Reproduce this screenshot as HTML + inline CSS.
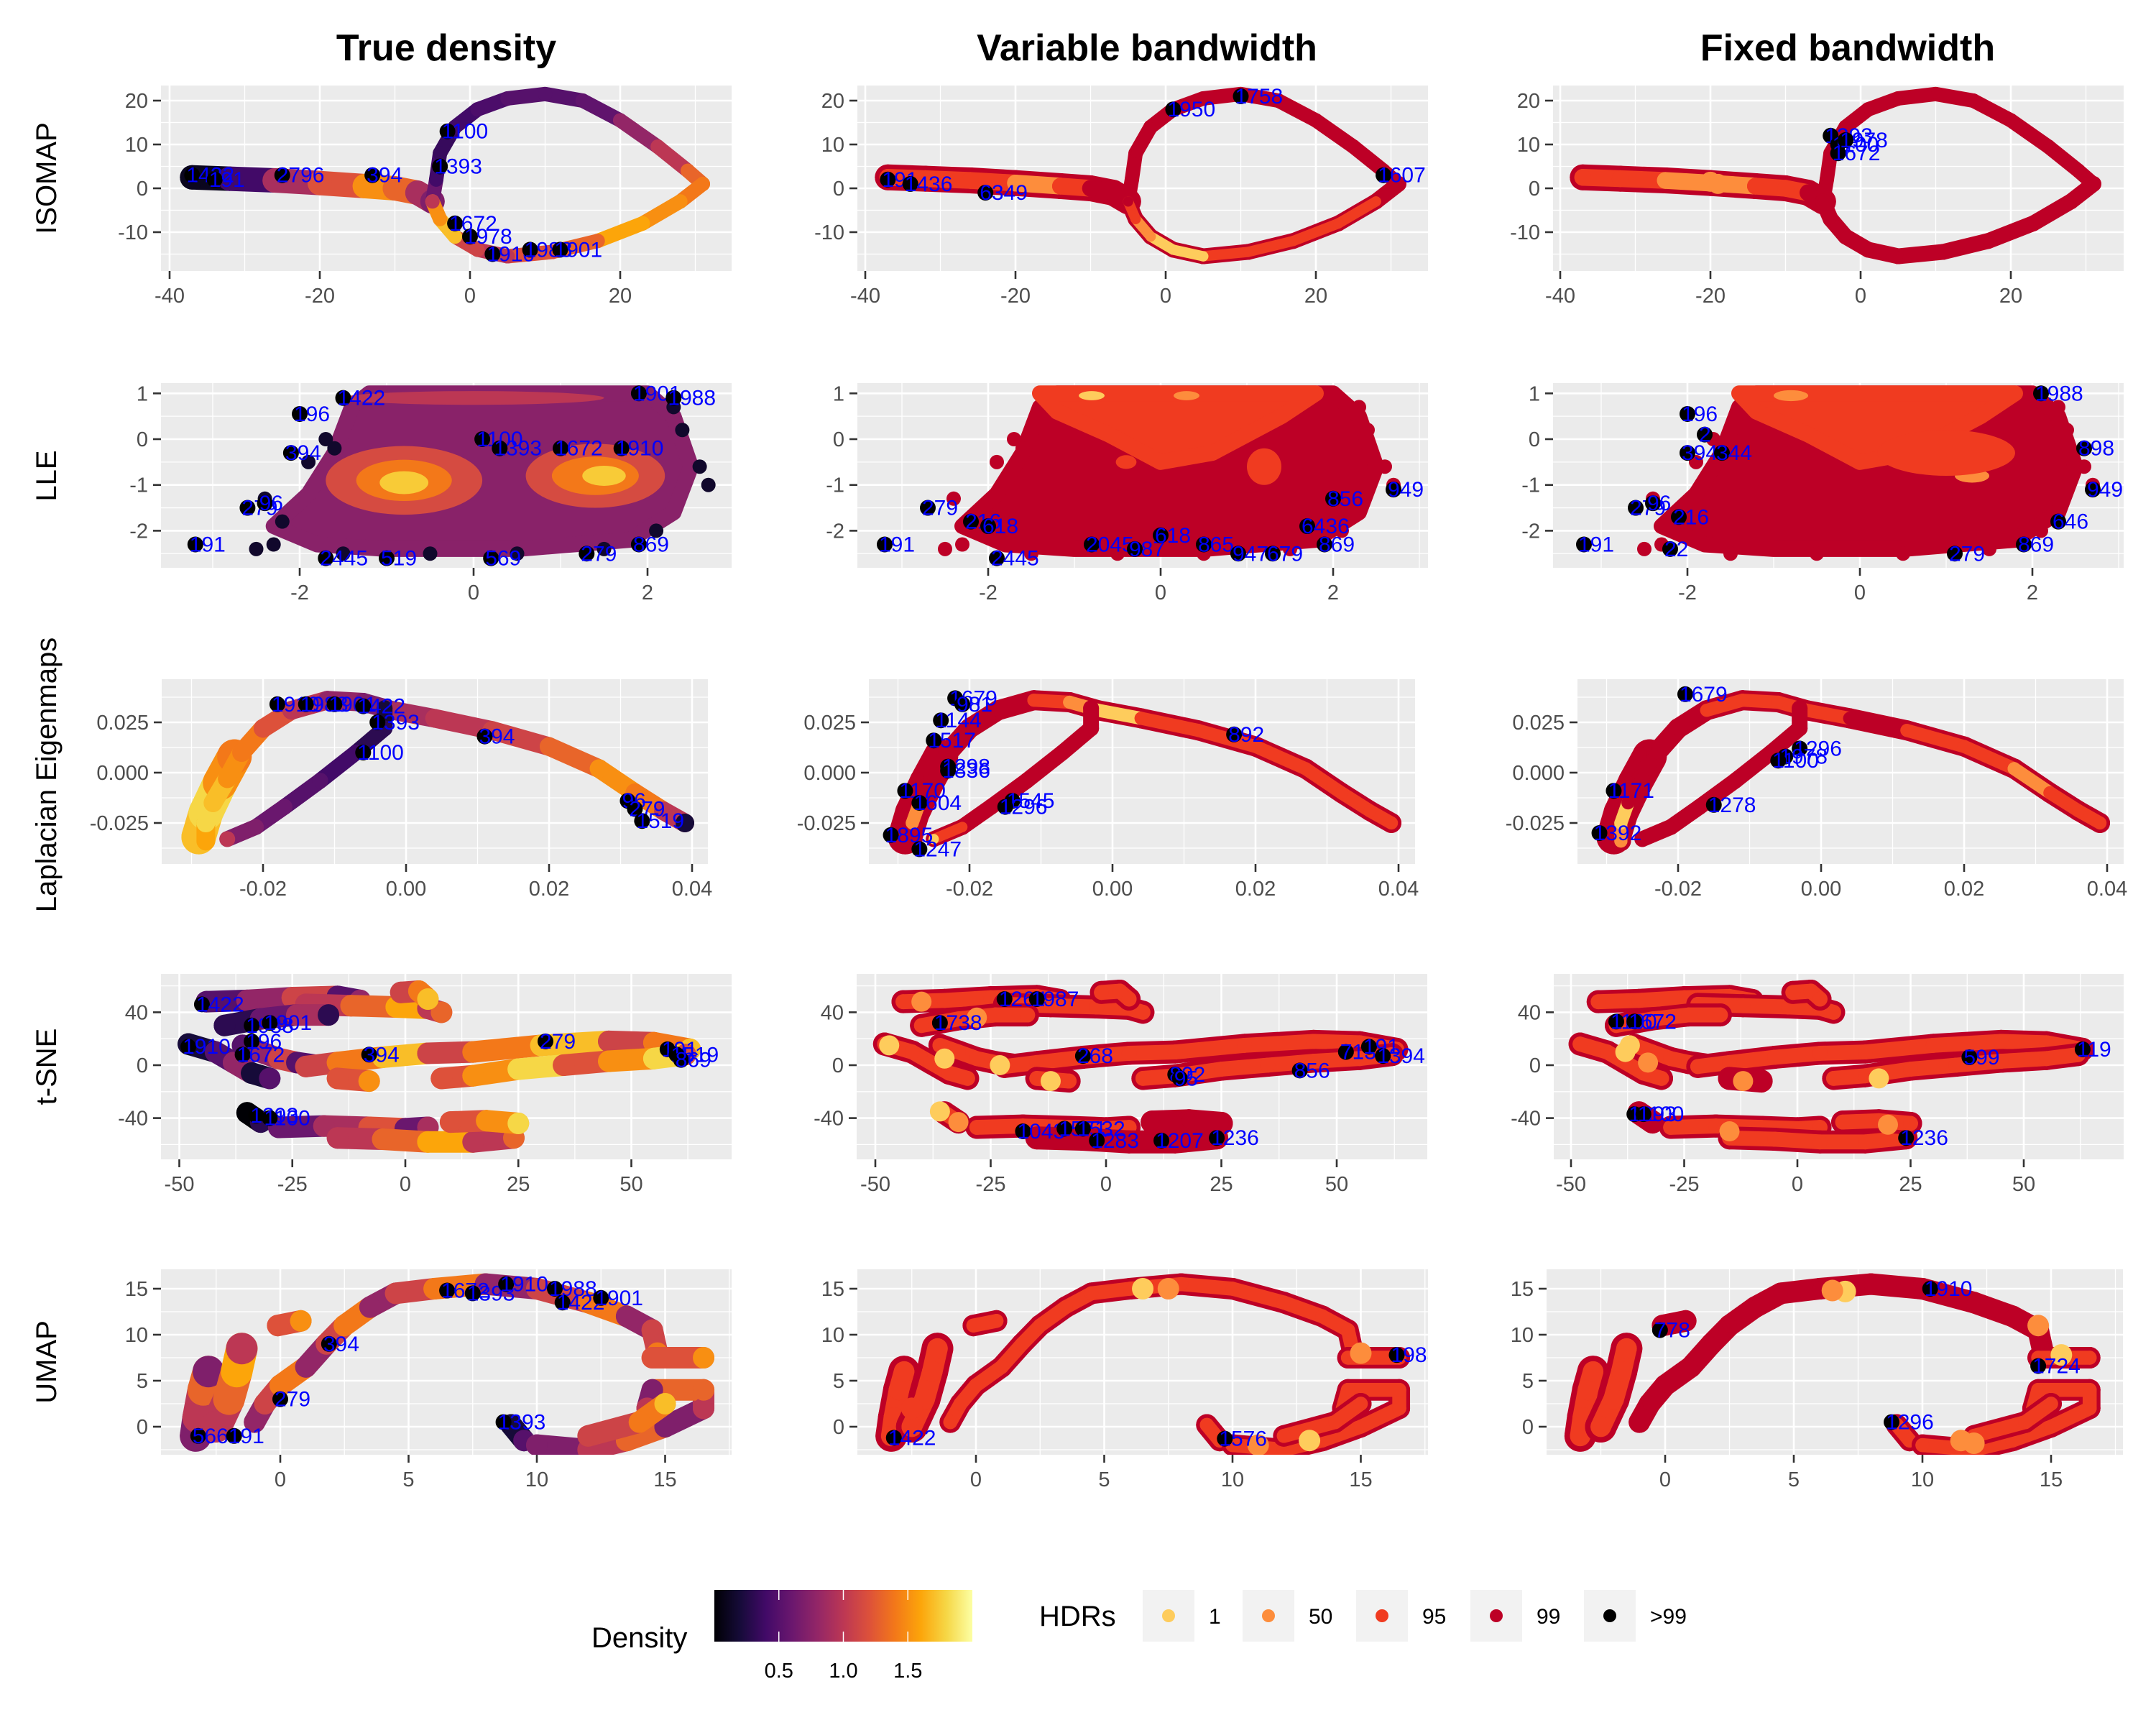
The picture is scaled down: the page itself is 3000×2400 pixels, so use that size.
<!DOCTYPE html>
<html><head><meta charset="utf-8"><style>
html,body{margin:0;padding:0;background:#fff;}
svg{display:block;font-family:"Liberation Sans",sans-serif;}
</style></head><body>
<svg id="fig" xmlns="http://www.w3.org/2000/svg" width="3000" height="2400" viewBox="0 0 3000 2400">
<rect x="0" y="0" width="3000" height="2400" fill="#fff"/>
<text x="621" y="84" font-size="52" font-weight="bold" text-anchor="middle">True density</text>
<text x="1596" y="84" font-size="52" font-weight="bold" text-anchor="middle">Variable bandwidth</text>
<text x="2571" y="84" font-size="52" font-weight="bold" text-anchor="middle">Fixed bandwidth</text>
<g id="rowlabels"></g>
<g id="panels"></g>
<g id="legend"></g>
</svg>
<script>
// ---------------- data ----------------
const hdrLevels = ['1','50','95','99','>99'];
const hdrColors = ['#FECC5C','#FD8D3C','#F03B20','#BD0026','#000000'];
const densityTicks = [0.5,1.0,1.5];
const rowNames = ['ISOMAP','LLE','Laplacian Eigenmaps','t-SNE','UMAP'];

// ISOMAP
const isoArm = [[-37,2.5],[-32,2.2],[-26,1.8],[-20,1.2],[-14,0.5],[-10,0],[-7,-1],[-5,-3]];
const isoUp = [[-5,-3],[-4.5,2],[-4,8],[-2,14],[1,18],[5,20.5],[10,21.5],[15,20],[20,15.5],[25,9.5],[29,4],[31,1]];
const isoLow = [[31,1],[28,-3],[23,-8],[17,-12],[11,-14.5],[5,-15.5],[1,-14],[-2,-11],[-4,-7],[-5,-3]];
const isoArmDens = [0.1,0.4,0.9,1.2,1.5,1.3,0.9,0.7];
const isoUpDens = [0.6,0.4,0.35,0.4,0.45,0.5,0.5,0.55,0.8,1.0,1.3,1.4];
const isoLowDens = [1.4,1.5,1.6,1.3,1.2,1.0,1.1,1.7,1.5,1.0];
const isoArmVar = [2,2,2,1,2,3,3,3];
const isoUpVar = [3,3,3,3,3,3,3,3,3,3,3,3];
const isoLowVar = [3,2,2,2,2,0,0,1,2,3];
const isoArmFix = [2,2,1,1,2,2,3,3];
const isoUpFix = [3,3,3,3,3,3,3,3,3,3,3,3];
const isoLowFix = [3,3,3,3,3,3,3,3,3,3];
const isoLabTrue = [[-37,3,'1422'],[-34,2,'191'],[-25,3,'2796'],[-13,3,'394'],[-4,5,'1393'],[-3,13,'1100'],[-2,-8,'1672'],[0,-11,'1978'],[3,-15,'1910'],[8,-14,'1988'],[12,-14,'1901']];
const isoLabVar = [[-37,2,'191'],[-34,1,'1436'],[-24,-1,'6349'],[1,18,'1950'],[10,21,'1758'],[29,3,'1607']];
const isoLabFix = [[-4,12,'1393'],[-3,10,'1100'],[-3,8,'1672'],[-2,11,'1978']];

// LLE
const lleBody = [[-2.3,-1.9],[-1.9,-1.2],[-1.6,-0.3],[-1.4,0.7],[-1.2,1],[2.0,1],[2.3,0.5],[2.5,-0.6],[2.3,-1.6],[1.8,-2.2],[0.5,-2.4],[-1.0,-2.4],[-1.8,-2.3]];
const lleCore95 = [[-1.4,1],[1.8,1],[1.4,0.5],[0.6,-0.3],[0,-0.5],[-0.6,0.1],[-1.2,0.6]];
const lleBlobsTrue = [[0,0.9,1.5,0.15,1.0],[-0.8,-0.9,0.9,0.75,1.15],[1.4,-0.8,0.8,0.7,1.15],[-0.8,-0.9,0.55,0.45,1.4],[1.4,-0.8,0.5,0.42,1.4],[-0.8,-0.95,0.28,0.25,1.75],[1.5,-0.8,0.25,0.22,1.75]];
const lleBlobsVar = [[-0.8,0.95,0.15,0.1,0],[0.3,0.95,0.15,0.1,1],[1.2,-0.6,0.2,0.4,2],[-0.4,-0.5,0.12,0.15,2]];
const lleBlobsFix = [[-0.8,0.95,0.2,0.12,1],[1.3,-0.8,0.2,0.15,1],[1.0,-0.3,0.8,0.5,2]];
const lleSparse = [[-2.4,-1.3],[-2.2,-1.8],[-2.5,-2.4],[-2.3,-2.3],[-1.5,-2.5],[-0.5,-2.5],[0.5,-2.5],[1.5,-2.4],[2.1,-2.0],[2.6,-0.6],[2.7,-1.0],[2.4,0.2],[2.3,0.7],[-1.9,-0.5],[-1.6,-0.2],[-1.7,0.0]];
const lleLabTrue = [[-3.2,-2.3,'191'],[-2.6,-1.5,'279'],[-2.4,-1.4,'96'],[-2,0.55,'196'],[-1.5,0.9,'1422'],[-2.1,-0.3,'394'],[-1.7,-2.6,'2445'],[-1,-2.6,'519'],[0.1,0,'1100'],[0.3,-0.2,'1393'],[1.0,-0.2,'1672'],[1.7,-0.2,'1910'],[1.9,1.0,'1901'],[2.3,0.9,'1988'],[1.3,-2.5,'279'],[1.9,-2.3,'869'],[0.2,-2.6,'569']];
const lleLabVar = [[-3.2,-2.3,'191'],[-2.7,-1.5,'279'],[-2.2,-1.8,'216'],[-2,-1.9,'618'],[-1.9,-2.6,'2445'],[-0.8,-2.3,'2045'],[-0.3,-2.4,'987'],[0,-2.1,'618'],[0.5,-2.3,'865'],[0.9,-2.5,'947'],[1.3,-2.5,'679'],[1.7,-1.9,'6436'],[1.9,-2.3,'869'],[2.0,-1.3,'856'],[2.7,-1.1,'949']];
const lleLabFix = [[-3.2,-2.3,'191'],[-2.6,-1.5,'279'],[-2.4,-1.4,'96'],[-2.1,-1.7,'216'],[-2.0,0.55,'196'],[-1.8,0.1,'2'],[-2.0,-0.3,'394'],[-1.6,-0.3,'344'],[-2.2,-2.4,'22'],[1.1,-2.5,'279'],[1.9,-2.3,'869'],[2.1,1.0,'1988'],[2.6,-0.2,'898'],[2.7,-1.1,'949'],[2.3,-1.8,'646']];

// Laplacian Eigenmaps
const lapOuter = [[-0.028,-0.034],[-0.028,-0.025],[-0.027,-0.015],[-0.025,-0.003],[-0.023,0.01],[-0.02,0.022],[-0.016,0.031],[-0.011,0.036],[-0.006,0.035],[-0.002,0.031],[0.004,0.027],[0.012,0.021],[0.02,0.013],[0.027,0.002],[0.032,-0.01],[0.036,-0.019],[0.039,-0.025]];
const lapInner = [[-0.003,0.032],[-0.003,0.022],[-0.007,0.01],[-0.012,-0.004],[-0.017,-0.017],[-0.021,-0.027],[-0.025,-0.033]];
const lapLeft = [[-0.029,-0.032],[-0.028,-0.02],[-0.026,-0.005],[-0.024,0.008]];
const lapOuterDens = [1.6,1.8,1.7,1.5,1.4,1.2,1.0,0.8,0.7,0.9,1.0,1.1,1.3,1.5,1.4,1.0,0.2];
const lapInnerDens = [0.2,0.3,0.4,0.5,0.6,0.7,1.0];
const lapLeftDens = [1.7,1.8,1.5,1.4];
const lapOuterVar = [3,1,3,3,3,3,3,2,1,0,2,2,2,2,2,2,2];
const lapInnerVar = [3,3,3,3,3,2,0];
const lapLeftVar = [3,3,3,3];
const lapOuterFix = [1,0,3,3,3,3,2,2,2,2,3,2,2,1,2,2,2];
const lapInnerFix = [3,3,3,3,3,3,3];
const lapLeftFix = [3,3,3,3];
const lapLabTrue = [[-0.018,0.034,'1910'],[-0.014,0.034,'1988'],[-0.01,0.034,'1901'],[-0.006,0.033,'1422'],[-0.004,0.025,'1393'],[-0.006,0.01,'1100'],[0.011,0.018,'394'],[0.031,-0.014,'96'],[0.032,-0.018,'279'],[0.033,-0.024,'1519']];
const lapLabVar = [[-0.022,0.037,'1679'],[-0.021,0.034,'981'],[-0.024,0.026,'1144'],[-0.025,0.016,'1517'],[-0.023,0.003,'1298'],[-0.023,0.001,'1836'],[-0.029,-0.009,'1170'],[-0.027,-0.015,'1604'],[-0.014,-0.014,'1545'],[-0.015,-0.017,'1296'],[-0.031,-0.031,'1895'],[-0.027,-0.038,'1247'],[0.017,0.019,'892']];
const lapLabFix = [[-0.019,0.039,'1679'],[-0.003,0.012,'1296'],[-0.005,0.008,'1978'],[-0.006,0.006,'1100'],[-0.029,-0.009,'1171'],[-0.015,-0.016,'1278'],[-0.031,-0.03,'1392']];

// t-SNE strands
const tsneStrands = [
 [[-44,48],[-35,49],[-25,51],[-15,52],[-10,49]],
 [[-22,46],[-12,45],[-2,44],[5,43],[8,40]],
 [[-1,55],[3,56],[5,50]],
 [[-40,30],[-32,35],[-24,38],[-17,38]],
 [[-48,16],[-42,10],[-38,2],[-34,-6],[-30,-10]],
 [[-36,15],[-32,10],[-28,5],[-24,2],[-20,0]],
 [[-22,-1],[-15,2],[-5,6],[5,9],[15,10],[30,15],[45,18],[55,17],[63,12]],
 [[-15,-10],[-8,-12]],
 [[8,-10],[15,-8],[25,-3],[35,0],[45,3],[55,5],[62,8]],
 [[-35,-36],[-32,-43]],
 [[-28,-47],[-18,-46],[-8,-47],[0,-48],[5,-47]],
 [[-15,-55],[-5,-56],[5,-58],[15,-58],[24,-55]],
 [[10,-43],[18,-42],[25,-44]]
];
const tsneDens = [0.8,1.3,1.4,0.6,0.5,0.8,1.4,1.5,1.5,0.3,0.9,1.3,1.5];
const tsneVar = [2,2,2,2,2,2,2,2,2,2,2,3,3];
const tsneFix = [2,2,2,2,2,2,2,3,2,3,2,2,2];
const tsneSpotsVar = [[-47,15,0],[-35,5,0],[-23,0,0],[-12,-12,0],[-36,-35,0],[-40,48,1],[-32,-43,1],[-28,36,1]];
const tsneSpotsFix = [[-38,10,0],[-37,15,0],[18,-10,0],[-33,2,1],[20,-45,1],[-15,-50,1],[-12,-12,1]];
const tsneLabTrue = [[-45,46,'1422'],[-34,30,'1988'],[-30,32,'1901'],[-48,14,'1910'],[-34,18,'196'],[-36,8,'1672'],[-33,-38,'1393'],[-30,-40,'1100'],[-8,8,'394'],[31,18,'279'],[58,12,'191'],[60,8,'1519'],[61,4,'869']];
const tsneLabVar = [[-22,50,'1264'],[-15,50,'1987'],[-36,32,'1738'],[-5,7,'268'],[15,-7,'892'],[16,-10,'95'],[42,-4,'856'],[52,10,'713'],[57,14,'191'],[60,7,'1394'],[-18,-50,'1043'],[-9,-48,'1571'],[-5,-48,'1532'],[-2,-57,'1283'],[12,-57,'1207'],[24,-55,'1236']];
const tsneLabFix = [[-40,33,'1100'],[-36,33,'1672'],[-36,-37,'1393'],[-34,-37,'1100'],[38,6,'599'],[63,12,'119'],[24,-55,'1236']];

// UMAP strands
const umapStrands = [
 [[-3.3,-1],[-3.2,1],[-3,4],[-2.8,6]],
 [[-2.5,0],[-2,3],[-1.7,6],[-1.5,8.5]],
 [[-1,0.5],[-0.6,2.5],[0,4.5],[1,6.5],[1.8,9],[2.5,11],[3.5,13],[4.5,14.5],[6,15],[8,15.5],[10,15],[12,13.5],[13.5,12],[14.5,10.5],[14.7,8]],
 [[-0.1,11],[0.8,11.5]],
 [[14.5,7.5],[16.5,7.5]],
 [[9,0.2],[9.5,-1.5]],
 [[10,-2],[12,-2.5],[13.5,-1.5],[15,0],[16.5,2],[16.5,4],[14.5,4],[14.3,2]],
 [[12,-1],[14,0.5],[15,2.5]]
];
const umapDens = [1.0,1.3,1.1,1.5,1.5,0.5,1.0,1.4];
const umapVar = [2,2,2,2,2,2,2,2];
const umapFix = [2,2,3,3,2,2,2,2];
const umapSpotsVar = [[6.5,15,0],[7.5,15,1],[15,8,1],[13,-1.5,0],[-2.5,2,2],[11,-2,1]];
const umapSpotsFix = [[7,14.7,0],[6.5,14.8,1],[15.4,7.8,0],[14.5,11,1],[11.5,-1.5,1],[12,-1.8,1]];
const umapLabTrue = [[-3.2,-1,'566'],[-1.8,-1,'191'],[0,3,'279'],[1.9,9,'394'],[6.5,14.8,'1672'],[7.5,14.5,'1393'],[8.8,15.5,'1910'],[10.7,15,'1988'],[11,13.5,'1422'],[12.5,14,'1901'],[8.7,0.5,'1393']];
const umapLabVar = [[-3.2,-1.2,'1422'],[9.7,-1.3,'1576'],[16.4,7.8,'1988']];
const umapLabFix = [[10.3,15,'1910'],[-0.2,10.5,'778'],[14.5,6.6,'1724'],[8.8,0.5,'1296']];

// tick values
const isoXT=[-40,-20,0,20], isoYT=[-10,0,10,20];
const lleXT=[-2,0,2], lleYT=[-2,-1,0,1];
const lapXT=[-0.02,0,0.02,0.04], lapYT=[-0.025,0,0.025];
const lapXL=['-0.02','0.00','0.02','0.04'], lapYL=['-0.025','0.000','0.025'];
const tsneXT=[-50,-25,0,25,50], tsneYT=[-40,0,40];
const umapXT=[0,5,10,15], umapYT=[0,5,10,15];

// ---------------- rendering ----------------
const NS='http://www.w3.org/2000/svg';
function mk(tag, attrs, parent){const e=document.createElementNS(NS,tag);for(const k in attrs)e.setAttribute(k,attrs[k]);if(parent)parent.appendChild(e);return e;}
const infStops=['#000004','#160b39','#420a68','#6a176e','#932667','#bc3754','#dd513a','#f37819','#fca50a','#f6d746','#fcffa4'];
function hex(c){return [parseInt(c.slice(1,3),16),parseInt(c.slice(3,5),16),parseInt(c.slice(5,7),16)];}
function inferno(d){let t=Math.max(0,Math.min(1,d/2.0))*10;const i=Math.min(9,Math.floor(t)),f=t-i;const a=hex(infStops[i]),b=hex(infStops[i+1]);return 'rgb('+a.map((v,j)=>Math.round(v+(b[j]-v)*f)).join(',')+')';}

const rows=[
 {name:'isomap',top:119,bot:377,y0:262,ky:6.1,xt:isoXT,yt:isoYT,cols:[[224,1018,654,10.45],[1193,1987,1622,10.45],[2161,2955,2589,10.45]]},
 {name:'lle',top:533,bot:790,y0:611,ky:63.7,xt:lleXT,yt:lleYT,cols:[[224,1018,659,121],[1193,1987,1615,120],[2161,2955,2588,120]]},
 {name:'laplacian',top:945,bot:1202,y0:1075,ky:2800,xt:lapXT,yt:lapYT,xl:lapXL,yl:lapYL,cols:[[225,985,565,9950],[1209,1969,1548,9950],[2195,2955,2534,9950]]},
 {name:'tsne',top:1355,bot:1613,y0:1482,ky:1.84,xt:tsneXT,yt:tsneYT,cols:[[224,1018,564,6.29],[1192,1986,1539,6.42],[2162,2955,2501,6.3]]},
 {name:'umap',top:1766,bot:2024,y0:1985,ky:12.8,xt:umapXT,yt:umapYT,cols:[[224,1018,390,35.7],[1193,1987,1358,35.7],[2152,2954,2317,35.8]]}
];
const colNames=['true-density','variable-bandwidth','fixed-bandwidth'];
const root=document.getElementById('panels');
const rl=document.getElementById('rowlabels');
const rowCenters=[248,662,1078,1484,1895];
rowNames.forEach((n,i)=>{
 const t=mk('text',{x:0,y:0,'font-size':40,'text-anchor':'middle',transform:'translate(78,'+rowCenters[i]+') rotate(-90)'},rl);
 
 
 t.textContent=n;
});

function fmt(v){return String(v);}
function drawAxes(g,row,c){
 const [L,R,xz,kx]=c;
 const X=v=>xz+v*kx, Y=v=>row.y0-v*row.ky;
 mk('rect',{x:L,y:row.top,width:R-L,height:row.bot-row.top,fill:'#EBEBEB'},g);
 const xs=row.xt, ys=row.yt;
 const sx=xs[1]-xs[0], sy=ys[1]-ys[0];
 for(let v=xs[0]-sx*2.5;v<=xs[xs.length-1]+sx*2.5;v+=sx){const p=X(v);if(p>L&&p<R)mk('line',{x1:p,x2:p,y1:row.top,y2:row.bot,stroke:'#fff','stroke-width':1.3},g);}
 for(let v=ys[0]-sy*2.5;v<=ys[ys.length-1]+sy*2.5;v+=sy){const p=Y(v);if(p>row.top&&p<row.bot)mk('line',{x1:L,x2:R,y1:p,y2:p,stroke:'#fff','stroke-width':1.3},g);}
 xs.forEach((v,i)=>{const p=X(v);
  mk('line',{x1:p,x2:p,y1:row.top,y2:row.bot,stroke:'#fff','stroke-width':2.6},g);
  mk('line',{x1:p,x2:p,y1:row.bot,y2:row.bot+11,stroke:'#333','stroke-width':2.6},g);
  const t=mk('text',{x:p,y:row.bot+44,'font-size':29,fill:'#4D4D4D','text-anchor':'middle'},g);
  
  
  t.textContent=row.xl?row.xl[i]:fmt(v);});
 ys.forEach((v,i)=>{const p=Y(v);
  mk('line',{x1:L,x2:R,y1:p,y2:p,stroke:'#fff','stroke-width':2.6},g);
  mk('line',{x1:L-11,x2:L,y1:p,y2:p,stroke:'#333','stroke-width':2.6},g);
  const t=mk('text',{x:L-18,y:p+10,'font-size':29,fill:'#4D4D4D','text-anchor':'end'},g);
  
  
  t.textContent=row.yl?row.yl[i]:fmt(v);});
 return {X,Y};
}
function strokeLine(g,pts,cols,w,X,Y,name){
 for(let i=0;i<pts.length-1;i++){
  const l=mk('line',{x1:X(pts[i][0]),y1:Y(pts[i][1]),x2:X(pts[i+1][0]),y2:Y(pts[i+1][1]),stroke:cols[i],'stroke-width':w,'stroke-linecap':'round'},g);
  
  
 }
 pts.forEach((p,i)=>{const c=mk('circle',{cx:X(p[0]),cy:Y(p[1]),r:w/2,fill:cols[i]},g);
  
  });
}
function densStroke(g,pts,dens,w,X,Y,name){strokeLine(g,pts,dens.map(inferno),w,X,Y,name);}
function hdrStroke(g,pts,lv,w,X,Y,name){strokeLine(g,pts,pts.map(()=>hdrColors[3]),w,X,Y,name+'-outer');strokeLine(g,pts,lv.map(l=>hdrColors[l]),w*0.65,X,Y,name+'-inner');}
function labels(g,arr,X,Y){
 arr.forEach(a=>{const c=mk('circle',{cx:X(a[0]),cy:Y(a[1]),r:11,fill:'#000'},g);
  
  
  const t=mk('text',{x:X(a[0])-8,y:Y(a[1])+10,'font-size':30,fill:'#0000FF'},g);
  
  
  t.textContent=a[2];});
}
function spots(g,arr,X,Y,r){arr.forEach(s=>{const c=mk('circle',{cx:X(s[0]),cy:Y(s[1]),r:r,fill:hdrColors[s[2]]},g);
 
 });}
function poly(g,pts,fill,X,Y,name){const p=mk('polygon',{points:pts.map(q=>X(q[0])+','+Y(q[1])).join(' '),fill:fill,stroke:fill,'stroke-width':22,'stroke-linejoin':'round'},g);
 
 }
function ellipses(g,arr,X,Y,kx,ky,colf){arr.forEach(b=>{const e=mk('ellipse',{cx:X(b[0]),cy:Y(b[1]),rx:b[2]*kx,ry:b[3]*ky,fill:colf(b[4])},g);
 
 });}

let clipId=0;
rows.forEach((row,ri)=>{
 row.cols.forEach((c,ci)=>{
  const g=mk('g',{},root);
  
  
  const {X,Y}=drawAxes(g,row,c);
  const cid='clip'+(clipId++);
  const cp=mk('clipPath',{id:cid},g);mk('rect',{x:c[0],y:row.top,width:c[1]-c[0],height:row.bot-row.top},cp);
  const d=mk('g',{'clip-path':'url(#'+cid+')'},g);
  const kx=c[3], ky=row.ky;
  if(row.name==='isomap'){
   if(ci===0){densStroke(d,isoArm,isoArmDens,34,X,Y,'isomap-arm');densStroke(d,isoUp,isoUpDens,20,X,Y,'isomap-loop-upper');densStroke(d,isoLow,isoLowDens,20,X,Y,'isomap-loop-lower');labels(d,isoLabTrue,X,Y);}
   else {const A=ci===1?[isoArmVar,isoUpVar,isoLowVar]:[isoArmFix,isoUpFix,isoLowFix];
    hdrStroke(d,isoArm,A[0],36,X,Y,'isomap-arm');hdrStroke(d,isoUp,A[1],20,X,Y,'isomap-loop-upper');hdrStroke(d,isoLow,A[2],22,X,Y,'isomap-loop-lower');
    if(ci===2) spots(d,[[-20,1.5,1],[-19,1,1]],X,Y,14);
    labels(d,ci===1?isoLabVar:isoLabFix,X,Y);}
  } else if(row.name==='lle'){
   if(ci===0){poly(d,lleBody,inferno(0.75),X,Y,'lle-cloud');ellipses(d,lleBlobsTrue,X,Y,kx,ky,inferno);
    lleSparse.forEach(p=>{const q=mk('circle',{cx:X(p[0]),cy:Y(p[1]),r:10,fill:inferno(0.15)},d);});
    labels(d,lleLabTrue,X,Y);}
   else{poly(d,lleBody,hdrColors[3],X,Y,'lle-cloud');poly(d,lleCore95,hdrColors[2],X,Y,'lle-core-95');
    ellipses(d,ci===1?lleBlobsVar:lleBlobsFix,X,Y,kx,ky,l=>hdrColors[l]);
    lleSparse.forEach(p=>{const q=mk('circle',{cx:X(p[0]),cy:Y(p[1]),r:10,fill:hdrColors[3]},d);});
    labels(d,ci===1?lleLabVar:lleLabFix,X,Y);}
  } else if(row.name==='laplacian'){
   if(ci===0){densStroke(d,lapLeft,lapLeftDens,48,X,Y,'lap-left');densStroke(d,lapOuter,lapOuterDens,26,X,Y,'lap-outer');densStroke(d,lapInner,lapInnerDens,22,X,Y,'lap-inner');labels(d,lapLabTrue,X,Y);}
   else{const A=ci===1?[lapLeftVar,lapOuterVar,lapInnerVar]:[lapLeftFix,lapOuterFix,lapInnerFix];
    hdrStroke(d,lapLeft,A[0],48,X,Y,'lap-left');hdrStroke(d,lapOuter,A[1],28,X,Y,'lap-outer');hdrStroke(d,lapInner,A[2],22,X,Y,'lap-inner');
    labels(d,ci===1?lapLabVar:lapLabFix,X,Y);}
  } else if(row.name==='tsne'){
   tsneStrands.forEach((s,si)=>{
    if(ci===0) densStroke(d,s,s.map((p,j)=>tsneDens[si]+((j%3)-1)*0.3),30,X,Y,'tsne-strand');
    else hdrStroke(d,s,s.map(()=> (ci===1?tsneVar:tsneFix)[si]),32,X,Y,'tsne-strand');});
   if(ci>0) spots(d,ci===1?tsneSpotsVar:tsneSpotsFix,X,Y,14);
   labels(d,ci===0?tsneLabTrue:ci===1?tsneLabVar:tsneLabFix,X,Y);
  } else {
   umapStrands.forEach((s,si)=>{
    const w=si<2?44:30;
    if(ci===0) densStroke(d,s,s.map((p,j)=>umapDens[si]+((j%3)-1)*0.3),w,X,Y,'umap-strand');
    else hdrStroke(d,s,s.map(()=> (ci===1?umapVar:umapFix)[si]),w,X,Y,'umap-strand');});
   if(ci>0) spots(d,ci===1?umapSpotsVar:umapSpotsFix,X,Y,15);
   labels(d,ci===0?umapLabTrue:ci===1?umapLabVar:umapLabFix,X,Y);
  }
 });
});

// ---------------- legend ----------------
const lg=document.getElementById('legend');
const dt=mk('text',{x:823,y:2292,'font-size':40},lg);


dt.textContent='Density';
const defs=mk('defs',{},lg);
const grad=mk('linearGradient',{id:'infgrad',x1:0,x2:1,y1:0,y2:0},defs);
infStops.forEach((c,i)=>mk('stop',{offset:(i*10)+'%','stop-color':c},grad));
const bar=mk('rect',{x:994,y:2212,width:359,height:72,fill:'url(#infgrad)'},lg);


const cbX=v=>994+v/2.0*359;
densityTicks.forEach(v=>{const p=cbX(v);
 mk('line',{x1:p,x2:p,y1:2212,y2:2226,stroke:'#fff','stroke-width':1.5},lg);
 mk('line',{x1:p,x2:p,y1:2270,y2:2284,stroke:'#fff','stroke-width':1.5},lg);
 const t=mk('text',{x:p,y:2334,'font-size':29,'text-anchor':'middle'},lg);
 
 
 t.textContent=v.toFixed(1);});
const ht=mk('text',{x:1446,y:2262,'font-size':40},lg);


ht.textContent='HDRs';
const keyX=[1590,1729,1887,2046,2204];
hdrLevels.forEach((l,i)=>{
 const k=mk('g',{},lg);
 
 
 mk('rect',{x:keyX[i],y:2212,width:72,height:72,fill:'#F2F2F2'},k);
 mk('circle',{cx:keyX[i]+36,cy:2248,r:9,fill:hdrColors[i]},k);
 const t=mk('text',{x:keyX[i]+92,y:2259,'font-size':30},k);
 t.textContent=l;});
</script>
</body></html>
